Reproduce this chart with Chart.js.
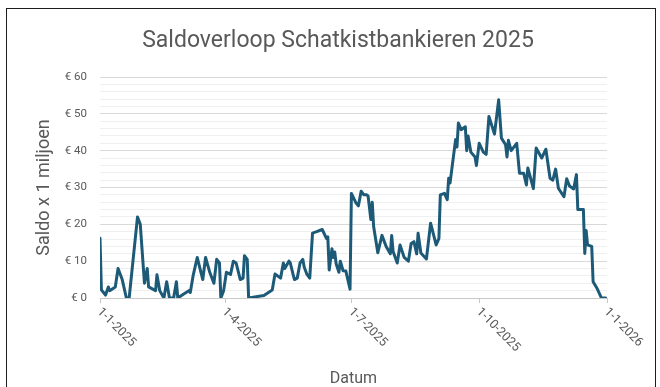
<!DOCTYPE html>
<html>
<head>
<meta charset="utf-8">
<script src="https://cdn.jsdelivr.net/npm/chart.js@4.4.1/dist/chart.umd.min.js"></script>
<style>
  html, body { margin: 0; padding: 0; background: #fff; }
  #wrap { position: relative; width: 660px; height: 387px; overflow: hidden; background: #fff; }
  #frame { position: absolute; left: 6px; top: 8px; width: 650px; height: 420px; border: 1.5px solid #1e1e1e; box-sizing: border-box; }
  canvas { position: absolute; left: 0; top: 0; }
</style>
</head>
<body>
<div id="wrap">
  <div id="frame"></div>
  <canvas id="c" width="660" height="387"></canvas>
</div>
<script>
// Saldo per datum (miljoen euro)
const dates = [
  '2025-01-01','2025-01-02','2025-01-05','2025-01-07','2025-01-08','2025-01-12','2025-01-14','2025-01-17',
  '2025-01-20','2025-01-22','2025-01-28','2025-01-30','2025-02-02','2025-02-04','2025-02-05','2025-02-10',
  '2025-02-11','2025-02-13','2025-02-16','2025-02-18','2025-02-20','2025-02-23','2025-02-25','2025-02-26',
  '2025-03-02','2025-03-06','2025-03-07','2025-03-09','2025-03-12','2025-03-14','2025-03-16','2025-03-18',
  '2025-03-21','2025-03-24','2025-03-26','2025-03-28','2025-03-29','2025-03-31','2025-04-02','2025-04-05',
  '2025-04-07','2025-04-09','2025-04-12','2025-04-14','2025-04-15','2025-04-17','2025-04-18','2025-04-29',
  '2025-05-05','2025-05-07','2025-05-11','2025-05-13','2025-05-14','2025-05-17','2025-05-18','2025-05-20',
  '2025-05-21','2025-05-23','2025-05-25','2025-05-27','2025-05-28','2025-05-30','2025-06-01','2025-06-03',
  '2025-06-06','2025-06-10','2025-06-13','2025-06-14','2025-06-15','2025-06-17','2025-06-18','2025-06-19',
  '2025-06-20','2025-06-22','2025-06-23','2025-06-25','2025-06-27','2025-06-30','2025-07-01','2025-07-04',
  '2025-07-06','2025-07-08','2025-07-10','2025-07-12','2025-07-13','2025-07-15','2025-07-16','2025-07-17',
  '2025-07-20','2025-07-23','2025-07-26','2025-07-29','2025-07-30','2025-07-31','2025-08-03','2025-08-05',
  '2025-08-08','2025-08-11','2025-08-13','2025-08-15','2025-08-17','2025-08-18','2025-08-20','2025-08-24',
  '2025-08-27','2025-08-31','2025-09-02','2025-09-03','2025-09-06','2025-09-08','2025-09-09','2025-09-10',
  '2025-09-14','2025-09-15','2025-09-16','2025-09-18','2025-09-21','2025-09-22','2025-09-23','2025-09-25',
  '2025-09-28','2025-09-29','2025-10-01','2025-10-04','2025-10-06','2025-10-08','2025-10-12','2025-10-15',
  '2025-10-17','2025-10-20','2025-10-21','2025-10-22','2025-10-24','2025-10-28','2025-10-30','2025-11-02',
  '2025-11-04','2025-11-05','2025-11-09','2025-11-11','2025-11-15','2025-11-18','2025-11-21','2025-11-23',
  '2025-11-25','2025-11-27','2025-12-01','2025-12-03','2025-12-05','2025-12-08','2025-12-10','2025-12-11',
  '2025-12-15','2025-12-16','2025-12-17','2025-12-18','2025-12-21','2025-12-22','2025-12-25','2025-12-28',
  '2025-12-31'
];
const saldo = [
  16.2, 2.2, 0.8, 3, 2, 3, 8, 5,
  0, 0, 22, 20, 4, 8, 3, 2,
  6.3, 2, 0, 4.4, 0, 0, 4.4, 0,
  1, 2, 1.5, 6, 11, 8, 5, 11,
  7, 4, 10.5, 9.5, 0, 2, 7, 6.4,
  10, 9.5, 5, 5.4, 11.5, 10.5, 0, 0.7,
  2.2, 6.5, 5.4, 9.5, 8, 10, 9.5, 6.4,
  5, 5.4, 9.5, 10.5, 8.4, 6.4, 5.4, 17.6,
  18, 18.6, 16.2, 16.6, 7.6, 13.4, 11, 12.5,
  9.3, 7, 10, 7.4, 7.3, 2.4, 28.4, 26,
  25, 29, 28, 28, 27.7, 21.3, 26, 19.4,
  12.3, 17, 14, 12, 17, 12.6, 9.5, 14.4,
  11, 10, 14.8, 15.3, 12, 17.6, 12.2, 10.6,
  20.3, 14.4, 16.2, 28, 28.4, 26.7, 32.5, 31.2,
  43, 41, 47.5, 45.7, 46.5, 40, 44, 39.6,
  38.3, 36, 42, 39.6, 39, 49.3, 44.5, 53.8,
  43.4, 41.6, 38.3, 42.8, 40, 42, 33.9, 33.9,
  30.7, 35.3, 29.7, 40.7, 38, 40.4, 32.5, 32,
  35, 29.8, 27.5, 32.4, 30.4, 29.6, 33.5, 24,
  24, 12.1, 18.3, 14.4, 14, 4.4, 2.5, 0,
  0
];

// As-labels (datum) en hun posities
const tickDates = ['2025-01-01', '2025-04-01', '2025-07-01', '2025-10-01', '2026-01-01'];
const tickLabels = ['1-1-2025', '1-4-2025', '1-7-2025', '1-10-2025', '1-1-2026'];

const CHART_TITLE = 'Saldoverloop Schatkistbankieren 2025';

const START = Date.UTC(2025, 0, 1);
function dayOf(iso) {
  const [y, m, d] = iso.split('-').map(Number);
  return (Date.UTC(y, m - 1, d) - START) / 86400000;
}

const TEXT = '#595959';
const FONT = 'Roboto, "Liberation Sans", sans-serif';

// Titel boven de grafiek en schuin geplaatste datumlabels onder de x-as
const decorations = {
  id: 'decorations',
  afterDraw(chart) {
    const { ctx, scales: { x } } = chart;
    ctx.save();
    ctx.font = '23px ' + FONT;
    ctx.fillStyle = TEXT;
    ctx.textAlign = 'center';
    ctx.textBaseline = 'alphabetic';
    ctx.fillText(CHART_TITLE, 338, 47);

    ctx.font = '12.5px ' + FONT;
    ctx.textAlign = 'left';
    ctx.textBaseline = 'middle';
    tickDates.forEach((d, i) => {
      const px = x.getPixelForValue(dayOf(d));
      ctx.save();
      ctx.translate(px - 1, x.top + 12);
      ctx.rotate(Math.PI / 4);
      ctx.fillText(tickLabels[i], 0, 0);
      ctx.restore();
    });
    ctx.restore();
  }
};

new Chart(document.getElementById('c'), {
  type: 'line',
  data: {
    datasets: [{
      label: 'Saldo',
      data: dates.map((d, i) => ({ x: dayOf(d), y: saldo[i] })),
      borderColor: '#1d5a78',
      borderWidth: 3,
      pointRadius: 0,
      tension: 0,
      borderJoinStyle: 'round',
      borderCapStyle: 'round',
      fill: false
    }]
  },
  options: {
    responsive: false,
    animation: false,
    devicePixelRatio: 1,
    layout: { padding: { top: 77, right: 53, bottom: 0, left: 0 } },
    plugins: {
      legend: { display: false },
      tooltip: { enabled: false },
      title: { display: false }
    },
    scales: {
      x: {
        type: 'linear',
        min: 0,
        max: 365,
        afterBuildTicks(scale) {
          scale.ticks = tickDates.map(d => ({ value: dayOf(d) }));
        },
        afterFit(scale) { scale.height = 89; },
        ticks: { display: false },
        grid: { drawOnChartArea: false, drawTicks: true, tickLength: 5, color: '#c8c8c8' },
        border: { display: false },
        title: {
          display: true,
          text: 'Datum',
          color: TEXT,
          font: { family: FONT, size: 16, lineHeight: 1 },
          padding: { top: 0, bottom: 0 }
        }
      },
      y: {
        min: 0,
        max: 60,
        afterFit(scale) { scale.width = 100; },
        ticks: {
          stepSize: 2,
          autoSkip: false,
          padding: 13,
          color: TEXT,
          font: { family: FONT, size: 11.5 },
          callback: v => (v % 10 === 0 ? '€ ' + v : '')
        },
        grid: {
          drawTicks: false,
          lineWidth: 1,
          color: c => (c.tick.value === 0 ? '#c8c8c8' : (c.tick.value % 10 === 0 ? '#d9d9d9' : '#efefef'))
        },
        border: { display: false },
        title: {
          display: true,
          text: 'Saldo x 1 miljoen',
          color: TEXT,
          font: { family: FONT, size: 18, lineHeight: 1 },
          padding: { top: 35, bottom: 0 }
        }
      }
    }
  },
  plugins: [decorations]
});
</script>
</body>
</html>
